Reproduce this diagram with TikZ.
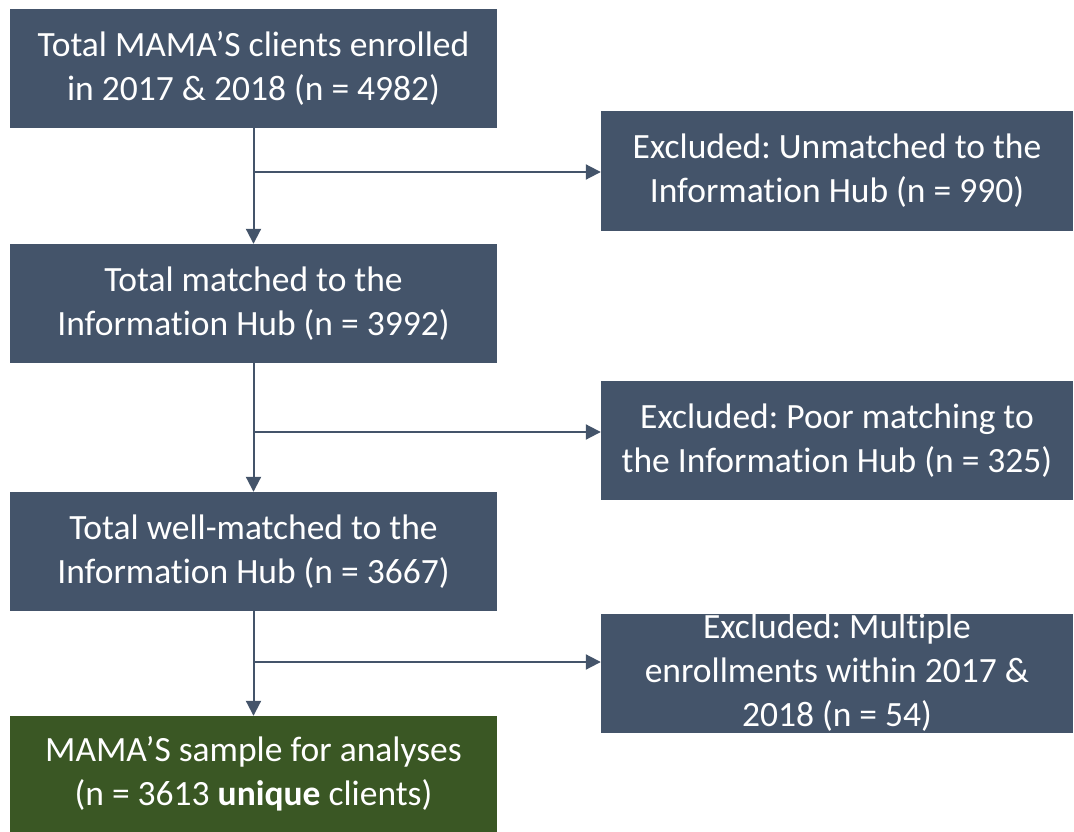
\documentclass[tikz,border=0pt]{standalone}
\usepackage{fontspec}
\setmainfont{Carlito}[Ligatures = NoCommon]
\usetikzlibrary{arrows.meta}
\definecolor{slate}{HTML}{44546A}
\definecolor{leaf}{HTML}{3A5724}
\frenchspacing

\begin{document}
\begin{tikzpicture}[x = 1pt, y = -1pt,
  box/.style = {fill = slate, text = white, align = center, inner sep = 0pt,
    font = \fontsize{35.5}{44}\selectfont},
  lbox/.style = {box, minimum width = 487pt, minimum height = 119pt},
  rbox/.style = {box, minimum width = 472pt, minimum height = 119pt},
  flow/.style = {draw = slate, line width = 2pt, -{Triangle[length = 15pt, width = 15pt]}}]
\useasboundingbox (0,0) rectangle (1074,832);
% main column
\node[lbox] (total) at (253.5, 68.5) {Total MAMA’S clients enrolled\\in 2017 \& 2018 (n = 4982)};
\node[lbox] (matched) at (253.5, 303.5) {Total matched to the\\Information Hub (n = 3992)};
\node[lbox] (well) at (253.5, 551.5) {Total well-matched to the\\Information Hub (n = 3667)};
\node[lbox, fill = leaf, minimum height = 116pt] (sample) at (253.5, 774) {MAMA’S sample for analyses\\(n = 3613 \textbf{unique} clients)};
% exclusions
\node[rbox] (unmatched) at (837, 171) {Excluded: Unmatched to the\\Information Hub (n = 990)};
\node[rbox] (poor) at (837, 440.5) {Excluded: Poor matching to\\the Information Hub (n = 325)};
\node[rbox] (multi) at (837, 673) {Excluded: Multiple\\enrollments within 2017 \&\\2018 (n = 54)};
% arrows
\coordinate (b1) at (253.5, 172);
\coordinate (b2) at (253.5, 432);
\coordinate (b3) at (253.5, 662);
\draw[flow] (total) -- (matched);
\draw[flow] (matched) -- (well);
\draw[flow] (well) -- (sample);
\draw[flow] (b1) -- (b1 -| unmatched.west);
\draw[flow] (b2) -- (b2 -| poor.west);
\draw[flow] (b3) -- (b3 -| multi.west);
\end{tikzpicture}
\end{document}
